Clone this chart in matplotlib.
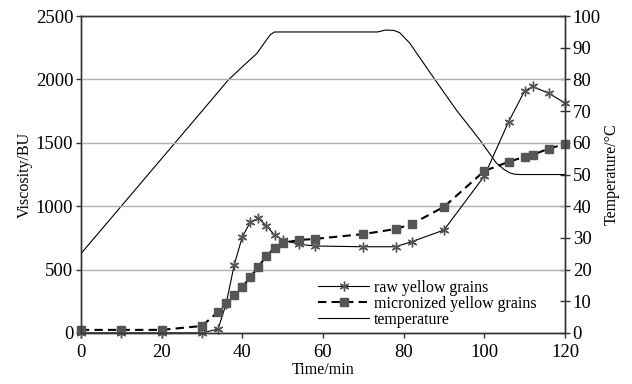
import matplotlib.pyplot as plt
from matplotlib.lines import Line2D

plt.rcParams['font.family'] = ['Liberation Serif', 'DejaVu Serif']

# time points (min)
time = [0, 10, 20, 30, 34, 36, 38, 40, 42, 44, 46, 48, 50, 54, 58, 70, 78, 82, 90,
        100, 106, 110, 112, 116, 120]
raw = [0, 0, 0, 0, 30, 230, 536, 757, 875, 905, 844, 773, 735, 700, 686, 680, 680,
       720, 812, 1238, 1665, 1910, 1945, 1890, 1815]
micronized = [24, 24, 24, 55, 166, 236, 300, 363, 440, 522, 608, 670, 710, 733, 742,
              780, 820, 859, 995, 1278, 1350, 1390, 1405, 1455, 1490]

# temperature profile (right axis)
temp_t = [0, 10, 20, 30, 36.5, 40, 43.6, 46, 47, 48, 60, 73.5, 75.5, 77.5, 79,
          81.5, 87.3, 93.1, 98.9, 103, 105, 106.4, 107.5, 109, 120]
temp = [25, 40, 55, 70, 79.8, 84, 88.2, 92.5, 94.2, 95, 95, 95, 95.6, 95.5, 94.8,
        91.5, 80.8, 70.3, 60.9, 53.6, 51.5, 50.5, 50.1, 50, 50]

fig = plt.figure(figsize=(6.32, 3.84), dpi=100)
ax = fig.add_axes([0.128, 0.133, 0.766, 0.825])
ax2 = ax.twinx()

ax.set_zorder(ax2.get_zorder() + 1)
ax.patch.set_visible(False)

ax2.plot(temp_t, temp, color='black', lw=0.8)
ax.plot(time, raw, color='black', lw=0.8, marker=(6, 2, 0), ms=7,
        mec='#555555', mew=1.0, clip_on=False)
ax.plot(time, micronized, color='black', lw=1.5, ls=(0, (4, 2.5)), marker='s',
        ms=5.5, mfc='#555555', mec='#555555', clip_on=False)

ax.set_xlim(0, 120)
ax.set_ylim(0, 2500)
ax2.set_ylim(0, 100)
ax.set_xticks(range(0, 121, 20))
ax.set_yticks(range(0, 2501, 500))
ax2.set_yticks(range(0, 101, 10))
ax.yaxis.grid(True, color='#b0b0b0', lw=1)
ax.set_axisbelow(True)

fs = 11.5
tfs = 13.5
ax.tick_params(axis='both', labelsize=tfs, direction='out', length=3.5, width=1,
               color='#333333', pad=2)
ax.tick_params(axis='x', pad=4.5)
ax2.tick_params(axis='y', labelsize=tfs, direction='inout', length=7, width=1,
                color='#333333', pad=2)
ax.set_xlabel('Time/min', fontsize=fs, labelpad=1)
ax.set_ylabel('Viscosity/BU', fontsize=fs, labelpad=2)
ax2.set_ylabel('Temperature/°C', fontsize=fs, labelpad=2)

for a in (ax, ax2):
    for s in a.spines.values():
        s.set_color('#333333')
        s.set_linewidth(1)

handles = [
    Line2D([], [], color='black', lw=0.8, marker=(6, 2, 0), ms=7, mec='#555555'),
    Line2D([], [], color='black', lw=1.5, ls=(0, (4, 2.5)), marker='s', ms=5.5,
           mfc='#555555', mec='#555555'),
    Line2D([], [], color='black', lw=0.8),
]
ax.legend(handles, ['raw yellow grains', 'micronized yellow grains', 'temperature'],
          loc='lower right', bbox_to_anchor=(0.965, -0.02), frameon=False,
          fontsize=fs, handlelength=3.2, handletextpad=0.3, labelspacing=0.0,
          borderpad=0.2)

fig.savefig('out.png', dpi=100)
